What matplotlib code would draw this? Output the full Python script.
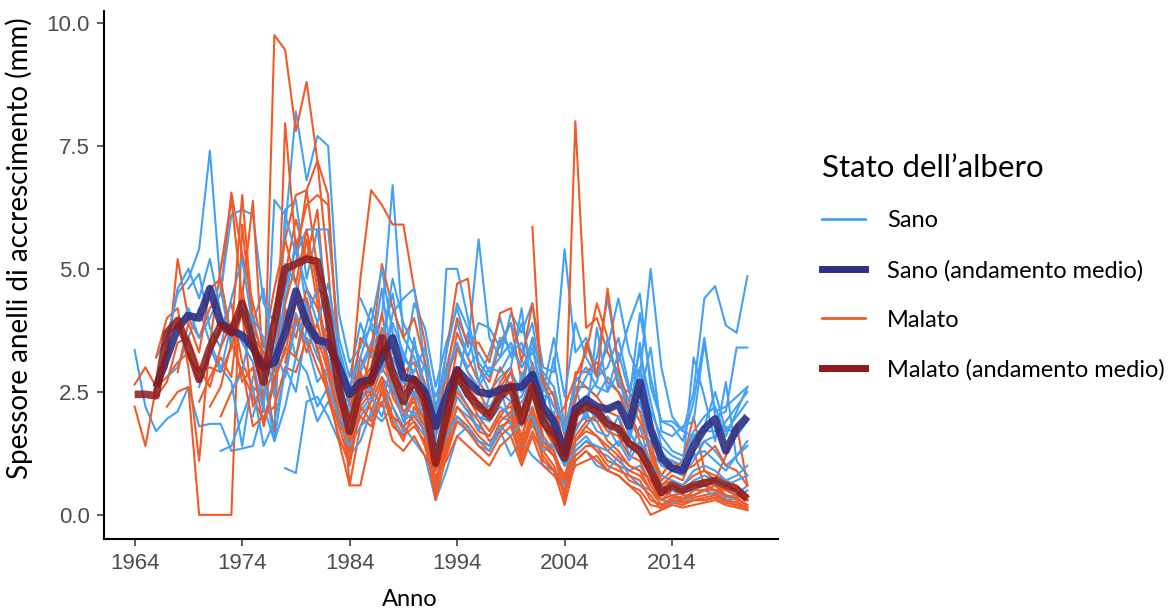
import numpy as np
import matplotlib.pyplot as plt
from matplotlib.lines import Line2D

# ring widths (mm), one list per tree, each running to 2021
# healthy trees ("Sano")
sano_a_start = 1964
sano_a = [3.35, 2.2, 1.7, 1.95, 2.1, 2.6,
          1.8, 1.85, 1.85, 1.3, 1.35, 1.4, 2.2, 1.5, 3.0, 2.5,
          3.8, 3.2, 2.8, 2.0, 1.4, 2.0, 2.3, 2.8, 2.5, 2.1,
          1.9, 1.6, 0.9, 1.5, 2.2, 2.0, 1.8, 1.6, 2.0, 1.9,
          1.6, 1.8, 1.5, 1.2, 0.8, 1.4, 1.6, 1.3, 1.2, 1.0,
          0.9, 1.0, 0.7, 0.5, 0.4, 0.45, 0.5, 0.6, 0.5, 0.35, 0.4, 0.6]
sano_b_start = 1966
sano_b = [3.2, 3.6, 4.5, 4.8,
          5.4, 7.4, 4.6, 3.4, 4.4, 3.9, 4.6, 2.6, 4.3, 5.6,
          4.2, 3.6, 3.2, 2.2, 2.4, 3.0, 3.5, 4.0, 6.7, 3.6,
          3.2, 2.7, 1.9, 2.8, 3.4, 3.0, 3.3, 2.9, 3.2, 3.5,
          3.0, 3.4, 2.4, 2.5, 1.6, 2.8, 2.6, 2.4, 2.8, 2.5,
          2.2, 3.0, 2.1, 1.6, 1.3, 1.2, 1.7, 2.0, 2.2, 1.6, 2.1, 2.6]
sano_c_start = 1968
sano_c = [3.8, 4.2,
          3.6, 4.0, 4.5, 6.1, 6.2, 6.1, 4.3, 3.9, 5.8, 8.2,
          6.8, 7.7, 7.5, 4.1, 3.1, 3.4, 4.2, 3.5, 4.5, 3.0,
          4.3, 3.8, 2.6, 3.5, 4.2, 3.4, 5.6, 3.6, 3.2, 4.1,
          3.7, 4.3, 3.0, 2.9, 5.4, 3.3, 3.6, 2.9, 3.4, 4.4,
          3.3, 2.8, 5.0, 3.0, 2.0, 1.7, 2.5, 4.4, 4.65, 3.85, 3.7, 4.85]
sano_d_start = 1967
sano_d = [2.8, 3.0, 3.6,
          4.2, 3.5, 3.0, 2.7, 1.4, 2.8, 3.2, 1.6, 6.2, 6.4,
          4.8, 5.8, 5.8, 3.6, 2.8, 3.9, 3.2, 4.6, 3.0, 2.7,
          2.4, 3.1, 1.5, 5.0, 5.0, 4.0, 3.0, 2.5, 2.8, 3.0,
          4.2, 2.4, 2.8, 1.9, 1.5, 2.4, 2.8, 3.2, 4.4, 3.1,
          3.9, 4.5, 2.6, 1.9, 1.8, 1.5, 2.3, 3.6, 2.0, 2.1, 3.4, 3.4]
sano_e_start = 1978
sano_e = [0.95, 0.85,
          2.3, 2.4, 2.0, 1.5, 1.2, 1.5, 2.1, 1.9, 2.2, 1.8,
          1.5, 1.2, 0.3, 0.9, 1.6, 1.8, 1.4, 1.3, 1.7, 1.2,
          1.5, 1.2, 1.0, 0.9, 0.6, 1.1, 1.3, 1.0, 0.9, 1.2,
          0.8, 0.6, 0.5, 0.3, 0.25, 0.3, 0.4, 0.5, 0.4, 0.3, 0.35, 0.5]
sano_f_start = 1969
sano_f = [4.6,
          4.9, 3.8, 3.4, 4.4, 5.2, 3.8, 3.3, 2.9, 4.1, 3.2,
          4.4, 3.3, 3.9, 2.7, 2.0, 2.6, 2.9, 3.3, 2.6, 2.3,
          2.0, 2.2, 1.1, 2.3, 3.0, 2.6, 2.2, 2.1, 2.4, 2.9,
          2.5, 3.6, 1.9, 2.1, 1.0, 2.0, 2.3, 1.9, 2.0, 1.7,
          1.5, 2.3, 1.3, 1.0, 0.9, 0.8, 1.1, 1.5, 1.3, 1.0, 1.2, 1.5]
sano_g_start = 1970
sano_g = [2.6, 3.4, 2.9, 3.9, 3.5, 3.1, 2.1, 6.4, 6.1, 5.3,
          5.8, 5.8, 4.1, 3.3, 2.5, 3.5, 3.8, 3.1, 3.9, 3.3,
          2.8, 2.6, 2.1, 2.5, 2.7, 3.7, 2.7, 3.3, 4.0, 3.2,
          3.9, 3.0, 2.1, 3.2, 1.8, 2.6, 1.9, 3.8, 2.5, 2.9,
          1.9, 3.5, 1.8, 1.2, 1.1, 1.0, 3.2, 2.4, 1.5, 2.7, 1.1, 0.8]
sano_h_start = 1972
sano_h = [1.3, 1.4, 2.0, 2.6, 1.4, 1.9, 2.9, 4.1,
          3.5, 2.7, 3.0, 2.4, 1.6, 2.3, 2.6, 2.2, 3.2, 2.7,
          2.5, 1.9, 0.6, 1.9, 2.4, 2.1, 2.0, 1.9, 2.2, 2.0,
          2.3, 2.6, 1.8, 1.6, 1.3, 1.7, 2.1, 1.7, 1.6, 2.0,
          1.2, 1.8, 1.0, 0.8, 0.7, 0.6, 0.9, 1.0, 0.9, 0.7, 0.8, 1.0]
sano_i_start = 1976
sano_i = [4.5, 3.2, 5.1, 4.7,
          4.0, 4.6, 4.4, 3.0, 2.2, 2.9, 3.4, 2.9, 4.1, 4.4,
          4.6, 3.1, 2.4, 3.0, 3.9, 3.2, 3.9, 3.8, 3.4, 3.9,
          3.3, 3.9, 2.5, 3.6, 2.4, 3.9, 3.2, 2.8, 3.0, 3.6,
          2.6, 2.4, 3.4, 1.7, 1.6, 1.8, 1.9, 3.5, 2.1, 2.2, 2.4, 2.6]
sano_j_start = 1980
sano_j = [2.6, 1.9, 2.3, 1.9, 1.4, 1.8, 2.0, 2.5, 2.0, 1.6,
          3.6, 2.3, 1.4, 1.8, 2.6, 2.2, 1.7, 2.4, 2.6, 1.8,
          2.9, 1.9, 1.3, 1.4, 1.1, 1.5, 1.8, 2.1, 1.8, 1.4,
          1.7, 1.3, 1.5, 1.3, 1.0, 0.9, 1.3, 1.5, 1.6, 1.9, 2.2, 2.5]
sano_k_start = 1985
sano_k = [4.4, 3.9, 5.0, 3.7, 3.2,
          2.9, 3.4, 2.2, 2.9, 3.5, 2.9, 2.6, 3.0, 2.9, 3.3,
          3.5, 2.7, 2.6, 2.2, 1.9, 2.2, 2.4, 2.7, 3.6, 2.7,
          2.3, 4.1, 2.8, 1.9, 1.9, 1.7, 1.6, 1.7, 1.7, 1.8, 1.6, 1.9]
sano_l_start = 1967
sano_l = [3.4, 4.6, 5.0,
          4.4, 5.2, 4.1, 3.5, 4.2, 3.6, 2.9, 3.4, 2.8, 3.9,
          3.5, 3.7, 3.2, 2.6, 2.1, 2.4, 2.6, 3.0, 3.4, 2.5,
          2.6, 2.3, 1.6, 2.2, 2.7, 2.4, 2.3, 2.2, 2.5, 2.3,
          2.4, 2.9, 2.0, 1.8, 1.2, 2.1, 2.3, 2.0, 2.1, 2.3,
          1.6, 2.6, 1.6, 1.1, 1.0, 0.9, 1.2, 1.3, 1.1, 0.9, 1.2, 1.4]
sano_m_start = 1973
sano_m = [2.5, 2.9, 4.0, 3.6, 2.4, 4.6, 5.4,
          4.6, 3.9, 4.7, 3.4, 2.6, 3.2, 3.9, 3.5, 4.8, 3.9,
          3.4, 3.0, 1.9, 3.3, 4.3, 3.8, 3.1, 2.8, 3.6, 3.4,
          3.0, 3.3, 2.9, 2.6, 1.7, 2.7, 3.0, 2.6, 2.5, 3.3,
          2.5, 3.3, 2.3, 1.4, 1.2, 1.1, 1.6, 1.8, 2.5, 1.7, 2.0, 2.3]
sano_n_start = 1975
sano_n = [2.0, 2.8, 1.5, 2.2, 3.2,
          2.9, 2.2, 2.6, 2.0, 1.7, 2.1, 2.4, 2.0, 2.7, 1.9,
          2.1, 1.7, 1.2, 1.6, 2.0, 1.7, 1.5, 1.4, 1.8, 1.6,
          1.9, 2.0, 1.5, 1.4, 1.0, 1.3, 1.5, 1.4, 1.3, 1.5,
          1.1, 1.5, 0.9, 0.6, 0.5, 0.5, 0.7, 0.8, 0.7, 0.6, 0.7, 0.8]

# diseased trees ("Malato")
malato_a_start = 1964
malato_a = [2.65, 3.0, 2.6, 2.8, 3.1, 3.3,
            2.7, 3.3, 3.8, 4.3, 3.1, 2.6, 2.4, 3.6, 4.9, 6.0,
            5.2, 6.2, 3.7, 2.0, 1.2, 2.4, 2.6, 3.4, 2.4, 2.0,
            2.5, 2.1, 0.9, 1.6, 2.4, 2.1, 1.7, 1.6, 2.0, 2.3,
            1.6, 2.2, 1.5, 1.2, 0.6, 1.5, 1.7, 1.6, 1.3, 1.1,
            0.9, 0.8, 0.5, 0.2, 0.35, 0.3, 0.35, 0.4, 0.45, 0.3, 0.25, 0.15]
malato_b_start = 1964
malato_b = [2.2, 1.4, 2.6, 3.0, 5.2, 4.0,
            3.6, 4.2, 4.5, 6.55, 5.3, 4.3, 3.4, 4.6, 5.6, 6.5,
            6.6, 7.2, 6.5, 2.9, 1.6, 2.7, 3.0, 4.1, 2.9, 2.5,
            3.5, 2.6, 1.2, 2.1, 3.4, 2.9, 2.5, 2.1, 2.7, 3.0,
            2.1, 3.1, 2.2, 1.7, 1.0, 2.6, 2.6, 2.4, 2.1, 2.0,
            1.5, 1.4, 0.9, 0.5, 0.6, 0.5, 0.6, 0.6, 0.7, 0.6, 0.5, 0.3]
malato_c_start = 1967
malato_c = [2.2, 2.5, 2.6,
            0.0, 0.0, 0.0, 0.0, 5.9, 3.8, 2.1, 9.75, 9.45, 7.8,
            8.8, 7.2, 5.0, 2.6, 1.3, 2.9, 2.4, 3.0, 2.6, 1.9,
            2.4, 1.6, 0.4, 1.5, 2.7, 2.4, 2.0, 1.7, 2.1, 2.2,
            1.5, 2.6, 1.6, 1.3, 0.7, 1.8, 2.0, 1.9, 1.5, 1.3,
            1.0, 0.9, 0.7, 0.3, 0.5, 0.4, 0.4, 0.5, 0.6, 0.4, 0.3, 0.2]
malato_d_start = 1966
malato_d = [3.2, 4.0, 4.2, 3.0,
            1.1, 3.5, 5.0, 6.4, 4.4, 6.38, 2.8, 1.7, 7.96, 5.4,
            6.3, 6.5, 6.3, 3.2, 0.6, 1.8, 2.3, 2.8, 2.2, 1.7,
            1.9, 1.4, 0.6, 1.3, 2.0, 1.8, 1.5, 1.3, 1.8, 1.9,
            1.2, 1.9, 1.3, 1.0, 0.4, 1.2, 1.4, 1.4, 1.1, 1.0,
            0.7, 0.6, 0.4, 0.1, 0.25, 0.2, 0.3, 0.3, 0.35, 0.25, 0.2, 0.1]
malato_e_start = 1969
malato_e = [3.2,
            2.9, 3.0, 2.9, 3.4, 4.1, 2.2, 2.7, 3.3, 4.3, 5.1,
            6.6, 5.0, 4.4, 2.8, 2.3, 4.8, 6.6, 6.3, 5.9, 5.9,
            4.6, 3.5, 2.1, 3.3, 4.7, 4.8, 3.0, 2.7, 3.5, 3.9,
            2.7, 3.6, 2.8, 2.4, 1.3, 2.9, 2.9, 3.1, 2.7, 2.5,
            2.0, 1.5, 1.1, 0.6, 0.7, 0.6, 0.8, 0.9, 0.8, 0.7, 0.6, 0.4]
malato_f_start = 1970
malato_f = [2.3, 2.8, 3.2, 2.8, 4.6, 3.3, 2.4, 3.0, 3.8, 4.4,
            5.6, 4.3, 3.1, 1.9, 1.9, 3.2, 2.7, 3.8, 3.3, 2.9,
            3.1, 2.4, 1.6, 2.6, 3.7, 3.2, 2.7, 2.4, 3.0, 2.6,
            2.1, 2.9, 1.8, 1.4, 1.5, 8.0, 3.8, 4.0, 3.3, 2.9,
            2.3, 1.9, 1.3, 0.8, 1.1, 0.9, 1.0, 1.2, 1.4, 1.0, 0.9, 0.6]
malato_g_start = 2001
malato_g = [5.85, 2.0, 1.9, 2.2, 2.8, 3.3, 4.3, 3.6, 2.6,
            2.5, 2.1, 1.2, 0.7, 0.9, 1.1, 2.0, 0.9, 0.7, 1.2, 1.85, 0.6]
malato_h_start = 1975
malato_h = [3.6, 3.3, 2.6, 4.2, 3.6,
            4.6, 4.2, 3.5, 2.3, 1.4, 2.0, 1.8, 2.3, 1.5, 1.3,
            1.6, 1.2, 0.8, 1.1, 1.6, 1.4, 1.2, 1.0, 1.4, 1.6,
            1.0, 1.6, 1.0, 0.8, 0.5, 1.0, 1.1, 1.2, 0.9, 0.8,
            0.6, 0.4, 0.0, 0.1, 0.2, 0.15, 0.2, 0.25, 0.3, 0.2, 0.15, 0.1]
malato_i_start = 1978
malato_i = [3.1, 4.0,
            3.3, 3.9, 3.0, 2.5, 2.0, 3.6, 3.3, 5.1, 4.2, 3.6,
            4.0, 3.1, 1.8, 2.9, 4.0, 3.5, 3.5, 3.1, 4.1, 4.2,
            3.1, 4.3, 2.7, 2.2, 1.8, 2.3, 3.5, 2.8, 4.6, 3.0,
            2.1, 1.6, 1.5, 0.6, 0.8, 0.7, 1.3, 0.6, 0.5, 0.5, 0.4, 0.3]
malato_j_start = 1980
malato_j = [4.0, 3.4, 2.6, 1.5, 0.6, 0.6, 1.6, 2.6, 1.9, 1.5,
            2.2, 1.8, 0.5, 1.8, 3.0, 2.6, 2.3, 2.1, 2.5, 2.7,
            1.8, 2.5, 1.5, 1.3, 0.3, 1.6, 1.9, 2.0, 1.7, 1.6,
            1.2, 1.1, 0.6, 0.3, 0.4, 0.35, 0.4, 0.5, 0.5, 0.4, 0.35, 0.2]
malato_k_start = 1972
malato_k = [2.0, 2.5, 3.0, 1.8, 2.0, 2.2, 3.0, 2.9,
            3.6, 3.0, 2.5, 1.8, 1.6, 2.3, 3.4, 3.1, 2.8, 2.1,
            2.3, 1.9, 0.9, 1.9, 2.5, 2.2, 1.9, 1.5, 1.7, 2.0,
            1.4, 2.1, 1.4, 1.2, 0.8, 1.5, 1.8, 1.6, 1.4, 1.2,
            1.0, 0.9, 0.5, 0.3, 0.4, 0.3, 0.5, 0.5, 0.6, 0.5, 0.4, 0.3]
malato_l_start = 1968
malato_l = [2.9, 3.9,
            3.3, 4.6, 4.8, 3.6, 6.5, 4.0, 3.1, 4.1, 5.6, 4.7,
            5.8, 4.6, 3.0, 1.8, 1.1, 2.2, 2.5, 3.5, 2.6, 2.6,
            2.8, 2.2, 1.0, 2.0, 2.8, 2.5, 2.3, 2.0, 2.6, 2.9,
            2.0, 2.8, 2.0, 1.6, 1.2, 2.0, 2.3, 2.2, 1.9, 1.8,
            1.4, 1.2, 0.8, 0.4, 0.6, 0.5, 0.6, 0.7, 0.7, 0.6, 0.5, 0.3]
malato_m_start = 1971
malato_m = [2.2, 2.6, 3.5, 2.9, 2.4, 1.9, 2.8, 3.3, 4.3,
            4.4, 3.6, 2.9, 2.1, 1.5, 2.9, 2.1, 2.7, 2.0, 1.8,
            2.0, 1.7, 0.7, 1.4, 2.2, 1.9, 1.6, 1.4, 1.9, 2.1,
            1.3, 2.0, 1.1, 0.9, 0.5, 1.3, 1.5, 1.3, 1.0, 0.9,
            0.8, 0.7, 0.3, 0.2, 0.3, 0.25, 0.3, 0.35, 0.4, 0.3, 0.25, 0.15]
malato_n_start = 1966
malato_n = [2.4, 2.7, 3.5, 3.6,
            3.0, 2.6, 3.4, 3.9, 2.7, 3.0, 1.8, 2.7, 3.4, 3.2,
            4.1, 3.4, 2.4, 1.6, 1.0, 2.2, 1.9, 2.5, 1.8, 1.6,
            1.8, 1.5, 0.3, 1.2, 1.9, 1.7, 1.4, 1.2, 1.6, 1.8,
            1.1, 1.7, 1.2, 0.9, 0.2, 1.1, 1.3, 1.1, 0.9, 0.8,
            0.6, 0.5, 0.2, 0.15, 0.3, 0.25, 0.3, 0.3, 0.35, 0.25, 0.2, 0.1]

# mean trend per group
sano_mean_start = 1966
sano_mean = [2.6, 3.2, 3.8, 4.05,
             4.0, 4.6, 3.9, 3.75, 3.65, 3.4, 3.0, 3.1, 3.7, 4.55,
             3.9, 3.55, 3.5, 3.0, 2.45, 2.7, 2.75, 3.2, 3.6, 2.8,
             2.75, 2.5, 1.8, 2.4, 2.95, 2.7, 2.5, 2.45, 2.55, 2.6,
             2.6, 2.85, 2.2, 1.9, 1.25, 2.15, 2.35, 2.2, 2.15, 2.25,
             1.8, 2.7, 1.75, 1.15, 0.95, 0.9, 1.4, 1.75, 1.95, 1.3, 1.75, 2.0]
malato_mean_start = 1964
malato_mean = [2.45, 2.45, 2.42, 3.7, 3.95, 3.4,
               2.75, 3.4, 3.85, 3.7, 4.3, 3.5, 2.7, 3.9, 5.0, 5.1,
               5.2, 5.15, 4.0, 2.6, 1.7, 2.6, 2.7, 3.6, 2.9, 2.3,
               2.75, 2.3, 1.05, 2.0, 2.9, 2.45, 2.2, 2.0, 2.4, 2.6,
               1.9, 2.6, 1.9, 1.6, 1.15, 2.05, 2.2, 2.1, 1.85, 1.75,
               1.45, 1.3, 0.9, 0.45, 0.6, 0.5, 0.6, 0.65, 0.7, 0.6, 0.52, 0.32]

last_year = 2021

sano_trees = [(sano_a_start, sano_a), (sano_b_start, sano_b), (sano_c_start, sano_c),
              (sano_d_start, sano_d), (sano_e_start, sano_e), (sano_f_start, sano_f),
              (sano_g_start, sano_g), (sano_h_start, sano_h), (sano_i_start, sano_i),
              (sano_j_start, sano_j), (sano_k_start, sano_k), (sano_l_start, sano_l),
              (sano_m_start, sano_m), (sano_n_start, sano_n)]
malato_trees = [(malato_a_start, malato_a), (malato_b_start, malato_b), (malato_c_start, malato_c),
                (malato_d_start, malato_d), (malato_e_start, malato_e), (malato_f_start, malato_f),
                (malato_g_start, malato_g), (malato_h_start, malato_h), (malato_i_start, malato_i),
                (malato_j_start, malato_j), (malato_k_start, malato_k), (malato_l_start, malato_l),
                (malato_m_start, malato_m), (malato_n_start, malato_n)]

for start, vals in sano_trees + malato_trees + [(sano_mean_start, sano_mean), (malato_mean_start, malato_mean)]:
    assert start + len(vals) - 1 == last_year, (start, len(vals))


def years(start, vals):
    return np.arange(start, start + len(vals))


col_sano = '#42A1F4'
col_malato = '#EF5B28'
col_sano_mean = '#2E2F84'
col_malato_mean = '#8C1A1A'

fig = plt.figure(figsize=(11.73, 6.15), dpi=100)
ax = fig.add_axes([104 / 1173, 1 - 539 / 615, (778 - 104) / 1173, (539 - 11) / 615])

# individual trees, the two groups interleaved
for k in range(max(len(sano_trees), len(malato_trees))):
    if k < len(sano_trees):
        s, v = sano_trees[k]
        ax.plot(years(s, v), v, color=col_sano, lw=1.5, solid_joinstyle='round')
    if k < len(malato_trees):
        s, v = malato_trees[k]
        ax.plot(years(s, v), v, color=col_malato, lw=1.5, solid_joinstyle='round')

ax.plot(years(sano_mean_start, sano_mean), sano_mean, color=col_sano_mean, lw=5.5,
        alpha=0.9, solid_joinstyle='round', solid_capstyle='butt')
ax.plot(years(malato_mean_start, malato_mean), malato_mean, color=col_malato_mean, lw=5.5,
        alpha=0.85, solid_joinstyle='round', solid_capstyle='butt')

ax.set_xlim(1961.15, 2023.85)
ax.set_ylim(-0.49, 10.24)
ax.set_xticks([1964, 1974, 1984, 1994, 2004, 2014])
ax.set_yticks([0, 2.5, 5, 7.5, 10])
ax.set_yticklabels(['0.0', '2.5', '5.0', '7.5', '10.0'])
for lab in ax.get_xticklabels() + ax.get_yticklabels():
    lab.set_fontfamily('Liberation Sans')
ax.tick_params(length=5, width=1.1, color='#333333', labelcolor='#4D4D4D', labelsize=16, pad=5)
for side in ['top', 'right']:
    ax.spines[side].set_visible(False)
for side in ['left', 'bottom']:
    ax.spines[side].set_linewidth(1.5)
    ax.spines[side].set_color('black')

ax.set_xlabel('Anno', fontfamily='Lato', fontsize=17)
ax.xaxis.set_label_coords(0.454, -0.095)
ax.set_ylabel('Spessore anelli di accrescimento (mm)', fontfamily='Lato', fontsize=20)
ax.yaxis.set_label_coords(-0.105, 0.55)

handles = [Line2D([], [], color=col_sano, lw=2),
           Line2D([], [], color=col_sano_mean, lw=5),
           Line2D([], [], color=col_malato, lw=2),
           Line2D([], [], color=col_malato_mean, lw=5)]
labels = ['Sano', 'Sano (andamento medio)', 'Malato', 'Malato (andamento medio)']
leg = fig.legend(handles, labels, loc='upper left', bbox_to_anchor=(822 / 1173, 1 - 154 / 615),
                 frameon=False, title='Stato dell’albero', alignment='left',
                 prop={'family': 'Lato', 'size': 17},
                 title_fontproperties={'family': 'Lato', 'size': 22.5},
                 handlelength=1.8, handletextpad=0.95, labelspacing=1.2,
                 borderpad=0, borderaxespad=0)

fig.savefig('out.png', dpi=100)
